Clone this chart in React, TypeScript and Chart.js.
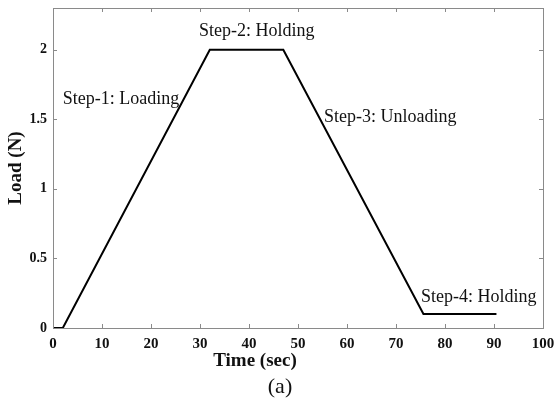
import React, { useEffect, useRef } from "react";
import { Chart, registerables } from "chart.js";

Chart.register(...registerables);

// Load protocol: time (s) against applied load (N)
const timeSec = [0, 2, 32, 47, 75.6, 90.5];
const loadN = [0, 0, 2, 2, 0.1, 0.1];

// Step labels, anchored at (time, load) of their left/middle point
const stepLabels = ["Step-1: Loading", "Step-2: Holding", "Step-3: Unloading", "Step-4: Holding"];
const stepLabelTime = [2.0, 29.8, 55.3, 75.1];
const stepLabelLoad = [1.647, 2.13, 1.518, 0.223];

const xTicks = [0, 10, 20, 30, 40, 50, 60, 70, 80, 90, 100];
const yTicks = [0, 0.5, 1, 1.5, 2];

const SERIF = '"Liberation Serif", "Times New Roman", serif';

const framePlugin = {
  id: "frameAndText",
  afterDraw(chart: any) {
    const { ctx, chartArea: a, scales } = chart;
    const xs = scales.x;
    const ys = scales.y;
    ctx.save();
    // frame
    ctx.strokeStyle = "#8a8a8a";
    ctx.lineWidth = 1;
    ctx.strokeRect(a.left + 0.5, a.top + 0.5, a.right - a.left, a.bottom - a.top);
    // inward ticks on all four sides
    const tl = 4;
    ctx.beginPath();
    xTicks.forEach((v) => {
      const px = Math.round(xs.getPixelForValue(v)) + 0.5;
      ctx.moveTo(px, a.bottom);
      ctx.lineTo(px, a.bottom - tl);
      ctx.moveTo(px, a.top);
      ctx.lineTo(px, a.top + tl);
    });
    yTicks.forEach((v) => {
      const py = Math.round(ys.getPixelForValue(v)) + 0.5;
      ctx.moveTo(a.left, py);
      ctx.lineTo(a.left + tl, py);
      ctx.moveTo(a.right, py);
      ctx.lineTo(a.right - tl, py);
    });
    ctx.stroke();

    // step annotations
    ctx.fillStyle = "#111";
    ctx.font = `18px ${SERIF}`;
    ctx.textAlign = "left";
    ctx.textBaseline = "middle";
    stepLabels.forEach((s, i) => {
      ctx.fillText(s, xs.getPixelForValue(stepLabelTime[i]), ys.getPixelForValue(stepLabelLoad[i]));
    });

    // axis titles
    ctx.font = `bold 19px ${SERIF}`;
    ctx.textAlign = "center";
    ctx.fillText("Time (sec)", 255, 361);
    ctx.save();
    ctx.translate(16, (a.top + a.bottom) / 2);
    ctx.rotate(-Math.PI / 2);
    ctx.fillText("Load (N)", 0, 0);
    ctx.restore();

    // panel caption
    ctx.font = `22px ${SERIF}`;
    ctx.fillText("(a)", 280, 387);
    ctx.restore();
  },
};

const noEdgePadding = (s: any) => {
  s.paddingTop = 0;
  s.paddingBottom = 0;
  s.paddingLeft = 0;
  s.paddingRight = 0;
};

export default function App() {
  const ref = useRef<HTMLCanvasElement | null>(null);

  useEffect(() => {
    if (!ref.current) return;
    const chart = new Chart(ref.current, {
      type: "line",
      data: {
        datasets: [
          {
            data: timeSec.map((t, i) => ({ x: t, y: loadN[i] })),
            borderColor: "#000",
            borderWidth: 2,
            pointRadius: 0,
            fill: false,
            tension: 0,
          },
        ],
      },
      options: {
        animation: false,
        responsive: false,
        layout: { padding: { left: 0, top: 8, right: 11, bottom: 0 } },
        plugins: { legend: { display: false }, tooltip: { enabled: false } },
        scales: {
          x: {
            type: "linear",
            min: 0,
            max: 100,
            grid: { display: false, drawTicks: false },
            border: { display: false },
            ticks: {
              stepSize: 10,
              padding: 7,
              color: "#111",
              font: { family: SERIF, size: 15, weight: "bold" },
              maxRotation: 0,
            },
            afterFit: (s: any) => {
              s.height = 75;
              noEdgePadding(s);
            },
          },
          y: {
            type: "linear",
            min: 0,
            max: 2.3,
            grid: { display: false, drawTicks: false },
            border: { display: false },
            ticks: {
              stepSize: 0.5,
              includeBounds: false,
              padding: 6,
              color: "#111",
              font: { family: SERIF, size: 14, weight: "bold" },
              callback: (v: any) => String(Math.round(Number(v) * 10) / 10),
            },
            afterFit: (s: any) => {
              s.width = 53;
              noEdgePadding(s);
            },
          },
        },
      },
      plugins: [framePlugin],
    });
    return () => chart.destroy();
  }, []);

  return (
    <div style={{ position: "fixed", left: 0, top: 0, width: 554, height: 403, background: "#fff" }}>
      <canvas ref={ref} width={554} height={403} />
    </div>
  );
}
